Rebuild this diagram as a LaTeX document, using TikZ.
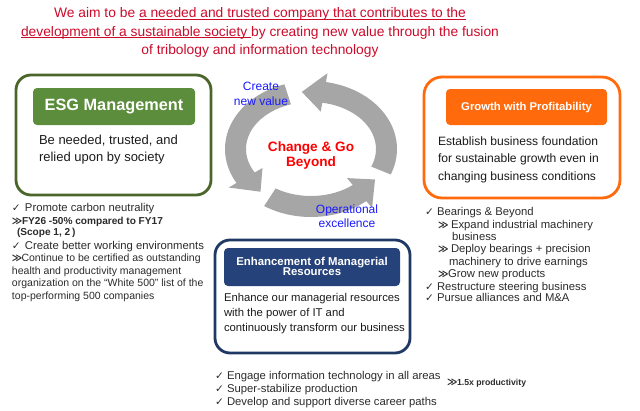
\documentclass[tikz,border=0pt]{standalone}
\usepackage{fontspec}
\setmainfont{Liberation Sans}
\newfontfamily\symf{DejaVu Sans}
\definecolor{titlered}{HTML}{CC0A2A}
\definecolor{esgborder}{HTML}{4A662B}
\definecolor{esgfill}{HTML}{5C8D3C}
\definecolor{orng}{HTML}{FF6A0D}
\definecolor{navyborder}{HTML}{1F3864}
\definecolor{navyfill}{HTML}{25437A}
\definecolor{ringgray}{HTML}{A6A6A6}
\definecolor{lblue}{HTML}{1A1AFF}
\definecolor{txt}{HTML}{1A1A1A}
\definecolor{bultxt}{HTML}{2B2B2B}
\newcommand\myul[1]{\setbox0\hbox{#1}\rlap{\color{titlered}\rule[-1.7pt]{\wd0}{0.8pt}}\box0}
\newcommand\ck[1][13pt]{\makebox[#1][l]{\symf\fontsize{10.5}{10.5}\selectfont ✓}}
\newcommand\dgt[1][10pt]{\makebox[#1][l]{\symf\bfseries\fontsize{10}{10}\selectfont ≫}}
\begin{document}
\begin{tikzpicture}[x=1pt,y=-1pt,
  every node/.style={inner sep=0pt,outer sep=0pt},
  titletext/.style={anchor=base,text=titlered,font=\fontsize{13.8}{16}\selectfont},
  bodytext/.style={anchor=base west,text=txt},
  bultext/.style={anchor=base west,text=bultxt,font=\fontsize{11.3}{13}\selectfont},
  esgsub/.style={anchor=base west,text=bultxt,font=\fontsize{10.5}{12}\selectfont},
  esgbold/.style={anchor=base west,text=bultxt,font=\bfseries\fontsize{10.1}{12}\selectfont},
  outerbox/.style={line width=2.8pt,rounded corners=15pt},
  headbox/.style={rounded corners=4pt},
  headtext/.style={anchor=base,text=white,font=\bfseries},
  cyclelabel/.style={anchor=base,text=lblue,font=\fontsize{12}{14}\selectfont},
  centertext/.style={anchor=base,text=red,font=\bfseries\fontsize{13.6}{15}\selectfont},
  ringarrow/.style={fill=ringgray}
]
\useasboundingbox (0,0) rectangle (640,410);

% title
\node[titletext] (t1) at (260,17.7) {We aim to be \myul{a needed and trusted company that contributes to the}};
\node[titletext] (t2) at (260,36) {\myul{development of a sustainable society }by creating new value through the fusion};
\node[titletext] (t3) at (260,54.3) {of tribology and information technology};

% cycle ring
\begin{scope}[shift={(311,149)},yscale=-1]
\fill[ringarrow] (-22:86 and 68) arc[start angle=-22,end angle=80,x radius=86,y radius=68]
  -- (80:95 and 77) -- (97:75.5 and 57.5) -- (80:56 and 38) -- (80:65 and 47)
  arc[start angle=80,end angle=-22,x radius=65,y radius=47] -- cycle;
\fill[ringarrow] (108:86 and 68) arc[start angle=108,end angle=210,x radius=86,y radius=68]
  -- (210:95 and 77) -- (228:75.5 and 57.5) -- (210:56 and 38) -- (210:65 and 47)
  arc[start angle=210,end angle=108,x radius=65,y radius=47] -- cycle;
\fill[ringarrow] (237:86 and 68) arc[start angle=237,end angle=310,x radius=86,y radius=68]
  -- (310:95 and 77) -- (328:75.5 and 57.5) -- (310:56 and 38) -- (310:65 and 47)
  arc[start angle=310,end angle=237,x radius=65,y radius=47] -- cycle;
\end{scope}
\node[centertext] (c1) at (311,151) {Change \& Go};
\node[centertext] (c2) at (311,166) {Beyond};
\node[cyclelabel] (cv1) at (261,90.7) {Create};
\node[cyclelabel] (cv2) at (261,105) {new value};
\node[cyclelabel] (oe1) at (347,213.3) {Operational};
\node[cyclelabel] (oe2) at (347,227.7) {excellence};

% ESG box
\draw[outerbox,draw=esgborder] (16,75) rectangle (211,195);
\fill[headbox,esgfill] (33,88) rectangle (195,125);
\node[headtext,font=\bfseries\fontsize{16.3}{18}\selectfont] (esgh) at (114,110.7) {ESG Management};
\node[bodytext,font=\fontsize{13}{15}\selectfont] (esgb1) at (39,144) {Be needed, trusted, and};
\node[bodytext,font=\fontsize{13}{15}\selectfont] (esgb2) at (39,161.7) {relied upon by society};

% ESG bullets
\node[bultext] (e1) at (12,211.7) {\ck Promote carbon neutrality};
\node[esgbold] (e2) at (12,224.3) {\dgt FY26 -50\% compared to FY17};
\node[esgbold] (e3) at (17,235.7) {(Scope 1, 2\,)};
\node[bultext] (e4) at (12,249.3) {\ck Create better working environments};
\node[esgsub] (e5) at (12,261.7) {\dgt[9.5pt]Continue to be certified as outstanding};
\node[esgsub] (e6) at (12,274) {health and productivity management};
\node[esgsub] (e7) at (12,286.7) {organization on the “White 500” list of the};
\node[esgsub] (e8) at (12,299) {top-performing 500 companies};

% Growth box
\draw[outerbox,draw=orng,rounded corners=18pt] (424,77) rectangle (620,198);
\fill[headbox,orng] (446,89) rectangle (607,125);
\node[headtext,font=\bfseries\fontsize{11.3}{13}\selectfont] (grh) at (526.5,110.7) {Growth with Profitability};
\node[bodytext,font=\fontsize{12.1}{14}\selectfont] (grb1) at (438,145) {Establish business foundation};
\node[bodytext,font=\fontsize{12.1}{14}\selectfont] (grb2) at (438,162.7) {for sustainable growth even in};
\node[bodytext,font=\fontsize{12.1}{14}\selectfont] (grb3) at (438,180.7) {changing business conditions};

% Growth bullets
\node[bultext] (g1) at (425,215) {\ck[12pt]Bearings \& Beyond};
\node[bultext] (g2) at (438,228.3) {\dgt[13pt]Expand industrial machinery};
\node[bultext] (g3) at (452,240) {business};
\node[bultext] (g4) at (438,252.3) {\dgt[13pt]Deploy bearings + precision};
\node[bultext] (g5) at (449,265) {machinery to drive earnings};
\node[bultext] (g6) at (438,277.7) {\dgt[10pt]Grow new products};
\node[bultext] (g7) at (425,290) {\ck[12pt]Restructure steering business};
\node[bultext] (g8) at (425,301.7) {\ck[12pt]Pursue alliances and M\&A};

% Enhancement box
\draw[outerbox,draw=navyborder] (215,240) rectangle (410,353);
\fill[headbox,navyfill] (224,248) rectangle (400,286);
\node[headtext,font=\bfseries\fontsize{11.4}{13}\selectfont] (enh1) at (312,265.7) {Enhancement of Managerial};
\node[headtext,font=\bfseries\fontsize{11.4}{13}\selectfont] (enh2) at (312,275.9) {Resources};
\node[bodytext,font=\fontsize{11.3}{13}\selectfont] (enb1) at (224,301.7) {Enhance our managerial resources};
\node[bodytext,font=\fontsize{11.3}{13}\selectfont] (enb2) at (224,316) {with the power of IT and};
\node[bodytext,font=\fontsize{11.3}{13}\selectfont] (enb3) at (224,331) {continuously transform our business};

% bottom bullets
\node[bultext] (b1) at (215,379.3) {\ck[12pt]Engage information technology in all areas};
\node[bultext] (b2) at (215,392.7) {\ck[12pt]Super-stabilize production};
\node[bultext] (b3) at (215,405) {\ck[12pt]Develop and support diverse career paths};
\node[anchor=base west,text=bultxt,font=\bfseries\fontsize{8.7}{10}\selectfont] (b4) at (447,385.7) {\dgt[10pt]1.5x productivity};
\end{tikzpicture}
\end{document}
